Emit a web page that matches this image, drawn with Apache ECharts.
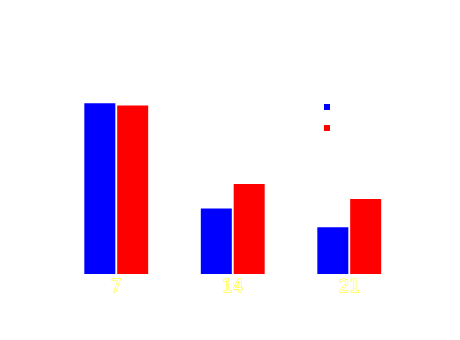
<!DOCTYPE html>
<html>
<head>
<meta charset="utf-8">
<script src="https://cdn.jsdelivr.net/npm/echarts@6/dist/echarts.min.js"></script>
<style>html,body{margin:0;padding:0;background:#fff;}#c{width:460px;height:340px;}</style>
</head>
<body>
<div id="c"></div>
<script>
var categories = ['7', '14', '21'];
var seriesNames = ['Series A', 'Series B'];
var valuesA = [73, 28, 20];
var valuesB = [72, 38.5, 32];

var chart = echarts.init(document.getElementById('c'), null, {renderer: 'canvas'});
chart.setOption({
  animation: false,
  backgroundColor: '#ffffff',
  legend: {
    orient: 'vertical',
    left: 324,
    top: 101,
    padding: 0,
    itemWidth: 6,
    itemHeight: 6,
    itemGap: 9,
    icon: 'rect',
    data: seriesNames,
    textStyle: {color: '#ffffff', fontSize: 12}
  },
  grid: {left: 58, right: 52.5, top: 40, bottom: 66},
  xAxis: {
    type: 'category',
    data: categories,
    axisLine: {show: false},
    axisTick: {show: false},
    axisLabel: {
      color: '#ffffff',
      textBorderColor: '#ffff00',
      textBorderWidth: 1,
      fontSize: 17,
      fontFamily: 'DejaVu Sans',
      margin: 5
    }
  },
  yAxis: {
    type: 'value',
    min: 0,
    max: 100,
    show: false,
    splitLine: {show: false}
  },
  series: [
    {name: seriesNames[0], type: 'bar', data: valuesA, barWidth: 31, barGap: '6%', itemStyle: {color: '#0000ff'}},
    {name: seriesNames[1], type: 'bar', data: valuesB, barWidth: 31, barGap: '6%', itemStyle: {color: '#ff0000'}}
  ]
});
</script>
</body>
</html>
